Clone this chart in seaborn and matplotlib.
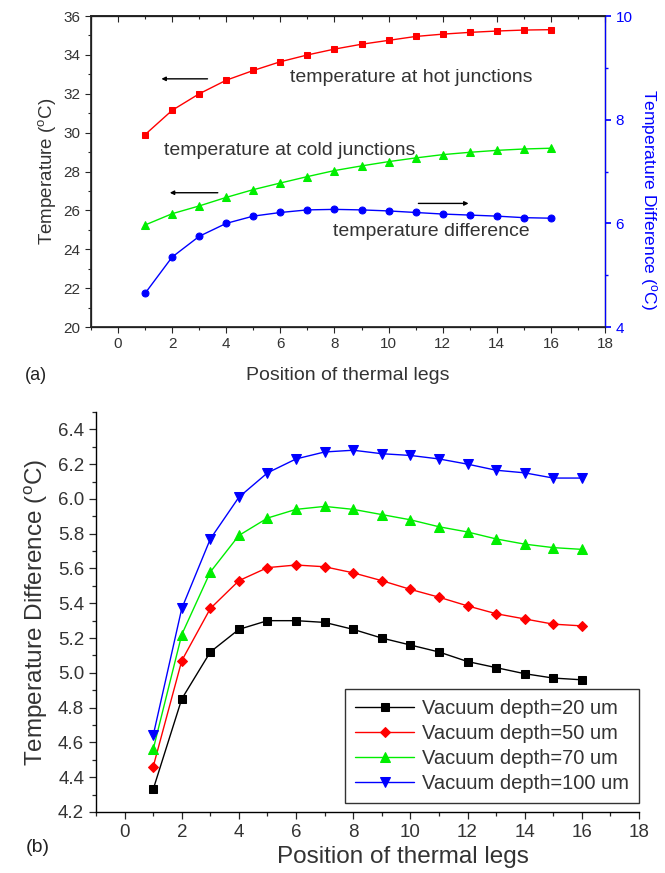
import numpy as np
import pandas as pd
import matplotlib
matplotlib.use("Agg")
import matplotlib.pyplot as plt
import matplotlib.ticker as mticker
import seaborn as sns

# ---- data ----
positions = list(range(1, 17))

hot_junction = [29.9, 31.15, 32.0, 32.7, 33.2, 33.65, 34.0, 34.3, 34.55, 34.75,
                34.95, 35.07, 35.16, 35.23, 35.28, 35.3]
cold_junction = [25.25, 25.83, 26.23, 26.67, 27.07, 27.41, 27.74, 28.05, 28.29, 28.51,
                 28.7, 28.87, 28.99, 29.09, 29.16, 29.2]
temp_difference = [4.65, 5.35, 5.75, 6.0, 6.14, 6.21, 6.26, 6.27, 6.26, 6.24,
                   6.21, 6.18, 6.16, 6.14, 6.11, 6.1]

depth_labels = ["Vacuum depth=20 um", "Vacuum depth=50 um",
                "Vacuum depth=70 um", "Vacuum depth=100 um"]
depth_20 = [4.33, 4.85, 5.12, 5.25, 5.30, 5.30, 5.29, 5.25, 5.20, 5.16,
            5.12, 5.065, 5.03, 4.995, 4.97, 4.96]
depth_50 = [4.46, 5.07, 5.37, 5.53, 5.605, 5.62, 5.61, 5.575, 5.53, 5.48,
            5.435, 5.385, 5.34, 5.31, 5.28, 5.27]
depth_70 = [4.56, 5.22, 5.58, 5.79, 5.89, 5.94, 5.957, 5.94, 5.91, 5.88,
            5.84, 5.81, 5.77, 5.74, 5.72, 5.71]
depth_100 = [4.64, 5.37, 5.77, 6.01, 6.15, 6.23, 6.27, 6.28, 6.26, 6.25,
             6.23, 6.20, 6.165, 6.15, 6.12, 6.12]

sns.set_theme(style="ticks")
plt.rcParams["font.family"] = ["Liberation Sans", "DejaVu Sans"]
plt.rcParams["mathtext.default"] = "regular"

BLUE = "#0000ff"
RED = "#ff0000"
GREEN = "#00ee00"
TXT = "#333333"

fig = plt.figure(figsize=(6.65, 8.73), dpi=100)

# ---------------- (a) ----------------
ax1 = fig.add_axes([0.1368, 0.6254, 0.773, 0.3562])
sns.lineplot(x=positions, y=hot_junction, color=RED, marker="s", markersize=5,
             markeredgecolor=RED, linewidth=1, ax=ax1)
sns.lineplot(x=positions, y=cold_junction, color=GREEN, marker="^", markersize=5.5,
             markeredgecolor=GREEN, linewidth=1, ax=ax1)
ax1.set_xlim(-1, 18)
ax1.set_ylim(20, 36)
ax1.xaxis.set_major_locator(mticker.MultipleLocator(2))
ax1.xaxis.set_minor_locator(mticker.MultipleLocator(1))
ax1.yaxis.set_major_locator(mticker.MultipleLocator(2))
ax1.yaxis.set_minor_locator(mticker.MultipleLocator(1))
ax1.tick_params(axis="both", which="major", direction="out", length=4, width=0.8,
                labelsize=11, labelcolor=TXT)
ax1.tick_params(axis="both", which="minor", direction="out", length=2.5, width=0.8)
ax1.set_xlabel("Position of thermal legs", fontsize=14, color=TXT, labelpad=11)
ax1.set_ylabel("Temperature ($^{o}$C)", fontsize=13.5, color=TXT, labelpad=4)
for s in ax1.spines.values():
    s.set_linewidth(0.9)
    s.set_color("black")

# top spine ticks point inward
top = ax1.secondary_xaxis("top")
top.xaxis.set_major_locator(mticker.MultipleLocator(2))
top.xaxis.set_minor_locator(mticker.MultipleLocator(1))
top.tick_params(which="major", direction="in", length=4, width=0.8, labeltop=False)
top.tick_params(which="minor", direction="in", length=2.5, width=0.8)

ax2 = ax1.twinx()
sns.lineplot(x=positions, y=temp_difference, color=BLUE, marker="o", markersize=5,
             markeredgecolor=BLUE, linewidth=1, ax=ax2)
ax2.set_ylim(4, 10)
ax2.yaxis.set_major_locator(mticker.MultipleLocator(2))
ax2.yaxis.set_minor_locator(mticker.MultipleLocator(1))
ax2.tick_params(axis="y", which="major", direction="out", length=4, colors=BLUE, labelsize=11)
ax2.tick_params(axis="y", which="minor", direction="out", length=2.5, colors=BLUE)
ax2.spines["right"].set_color(BLUE)
ax2.spines["right"].set_linewidth(0.9)
ax2.set_ylabel("Temperature Difference ($^{o}$C)", color=BLUE, fontsize=12.5,
               rotation=-90, va="center")
ax2.yaxis.set_label_coords(1.085, 0.41)

# annotations and arrows
ax1.text(6.36, 32.85, "temperature at hot junctions", fontsize=14, color=TXT, va="center")
ax1.text(1.71, 29.1, "temperature at cold junctions", fontsize=14, color=TXT, va="center")
ax1.text(7.96, 24.9, "temperature difference", fontsize=14, color=TXT, va="center")
arrow = dict(arrowstyle="-|>", color="black", lw=1, mutation_scale=6)
ax1.annotate("", xy=(1.5, 32.77), xytext=(3.41, 32.77), arrowprops=arrow)
ax1.annotate("", xy=(1.81, 26.91), xytext=(3.79, 26.91), arrowprops=arrow)
ax1.annotate("", xy=(13.06, 26.36), xytext=(11.0, 26.36), arrowprops=arrow)

fig.text(0.038, 1 - 375 / 873, "(a)", fontsize=13, va="center", color="#222222")

# ---------------- (b) ----------------
ax3 = fig.add_axes([0.1444, 0.0699, 0.8165, 0.4582])
series = [depth_20, depth_50, depth_70, depth_100]
colors = ["black", RED, GREEN, BLUE]
markers = ["s", "D", "^", "v"]
msizes = [6, 5.5, 7, 7]
for vals, lab, c, m, ms in zip(series, depth_labels, colors, markers, msizes):
    sns.lineplot(x=positions, y=vals, color=c, marker=m, markersize=ms,
                 markeredgecolor=c, linewidth=1, label=lab, ax=ax3)
ax3.set_xlim(-1, 18)
ax3.set_ylim(4.2, 6.5)
ax3.xaxis.set_major_locator(mticker.MultipleLocator(2))
ax3.xaxis.set_minor_locator(mticker.MultipleLocator(1))
ax3.yaxis.set_major_locator(mticker.FixedLocator(np.arange(4.2, 6.41, 0.2)))
ax3.yaxis.set_minor_locator(mticker.MultipleLocator(0.1))
ax3.yaxis.set_major_formatter(mticker.FormatStrFormatter("%.1f"))
ax3.tick_params(axis="both", which="major", direction="out", length=5, width=0.9,
                labelsize=13.5, labelcolor=TXT)
ax3.tick_params(axis="both", which="minor", direction="out", length=3, width=0.9)
for side in ["top", "right"]:
    ax3.spines[side].set_visible(False)
for side in ["left", "bottom"]:
    ax3.spines[side].set_linewidth(1)
    ax3.spines[side].set_color("black")
ax3.set_xlabel("Position of thermal legs", fontsize=17.5, color=TXT)
ax3.xaxis.set_label_coords(0.565, -0.085)
ax3.set_ylabel("Temperature Difference ($^{o}$C)", fontsize=17.5, color=TXT, labelpad=6)
leg = ax3.legend(loc="lower right", bbox_to_anchor=(1.0, 0.0225), fontsize=14.5,
                 frameon=True, fancybox=False, edgecolor="black", handlelength=2.9,
                 borderpad=0.5, labelspacing=0.3, handletextpad=0.4, borderaxespad=0)
leg.get_frame().set_linewidth(1)
for t in leg.get_texts():
    t.set_color(TXT)

fig.text(0.038, 1 - 848 / 873, "(b)", fontsize=14, va="center", color="#222222")

fig.savefig("out.png", dpi=100)
